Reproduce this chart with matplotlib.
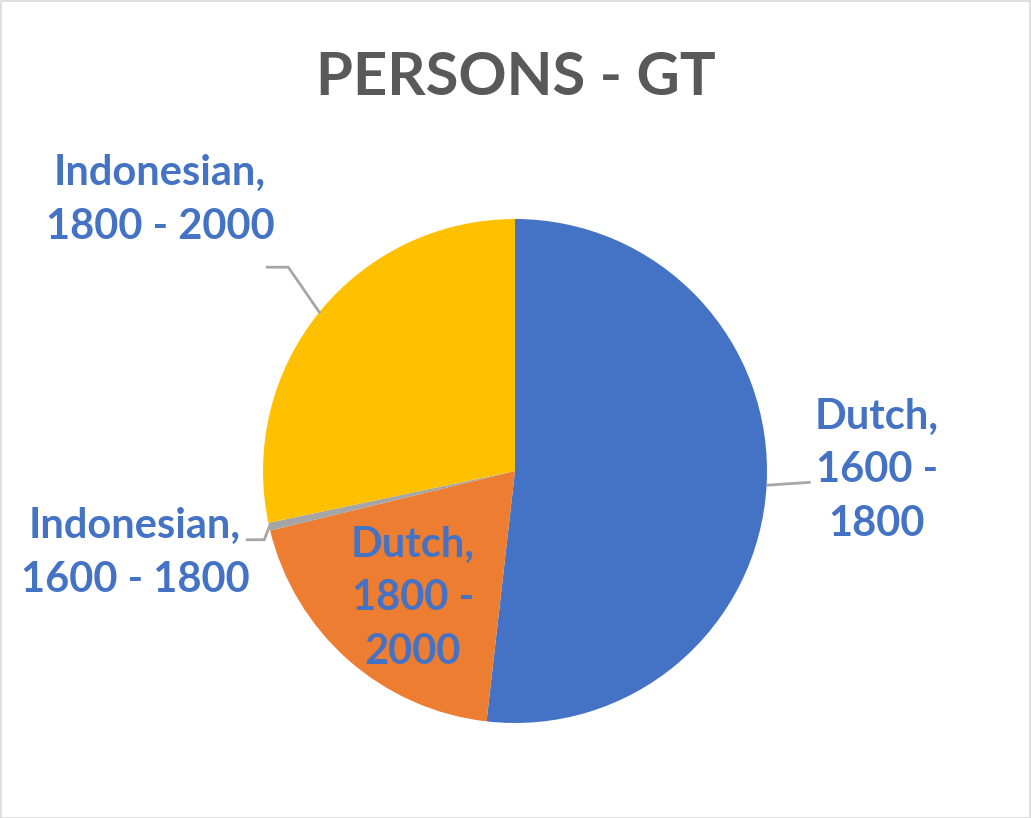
import numpy as np
import matplotlib.pyplot as plt
from matplotlib.patches import Rectangle

labels = ["Dutch,\n1600 -\n1800", "Dutch,\n1800 -\n2000",
          "Indonesian,\n1600 - 1800", "Indonesian,\n1800 - 2000"]
values = [51.8, 19.4, 0.5, 28.3]
colors = ["#4472C4", "#ED7D31", "#A5A5A5", "#FFC000"]

W, H = 1031, 818
fig = plt.figure(figsize=(W / 100, H / 100), dpi=100)
ax = fig.add_axes([0, 0, 1, 1])
ax.set_aspect("equal")

# figure border
fig.patches.append(Rectangle((0.5 / W, 0.5 / H), 1 - 1.5 / W, 1 - 1.5 / H,
                             transform=fig.transFigure, fill=False,
                             edgecolor="#D9D9D9", linewidth=1.2))

cx, cy, r = 515, H - 471, 252
wedges, _ = ax.pie(values, colors=colors, startangle=90, counterclock=False,
                   center=(cx, cy), radius=r, frame=True,
                   wedgeprops=dict(linewidth=0))
ax.set_xlim(0, W)
ax.set_ylim(0, H)
ax.axis("off")

font = "Lato"
lab_color = "#4472C4"
fs = 30
ls = 1.5

def edge_point(w):
    ang = np.deg2rad((w.theta1 + w.theta2) / 2)
    return cx + r * np.cos(ang), cy + r * np.sin(ang)

lc = "#A6A6A6"
# Dutch 1600-1800 (outside right)
x0, y0 = edge_point(wedges[0])
ax.plot([x0, x0 + 44], [y0, y0 + 3], color=lc, lw=2, solid_capstyle="butt")
ax.text(877, H - 470, labels[0], ha="center", va="center", fontsize=fs,
        fontweight="bold", color=lab_color, family=font, linespacing=ls)

# Dutch 1800-2000 (inside)
ax.text(413, H - 598, labels[1], ha="center", va="center", fontsize=fs,
        fontweight="bold", color=lab_color, family=font, linespacing=ls)

# Indonesian 1600-1800
x0, y0 = edge_point(wedges[2])
ax.plot([x0, x0 - 5, x0 - 22], [y0, y0 - 13, y0 - 13], color=lc, lw=2)
ax.text(135, H - 553, labels[2], ha="center", va="center", fontsize=fs,
        fontweight="bold", color=lab_color, family=font, linespacing=ls)

# Indonesian 1800-2000
x0, y0 = edge_point(wedges[3])
ax.plot([x0, x0 - 31, x0 - 52], [y0, y0 + 45, y0 + 45], color=lc, lw=2)
ax.text(160, H - 200, labels[3], ha="center", va="center", fontsize=fs,
        fontweight="bold", color=lab_color, family=font, linespacing=ls)

ax.text(516, H - 78, "PERSONS - GT", ha="center", va="center", fontsize=43,
        fontweight="bold", color="#595959", family=font)

plt.savefig("out.png", dpi=100)
